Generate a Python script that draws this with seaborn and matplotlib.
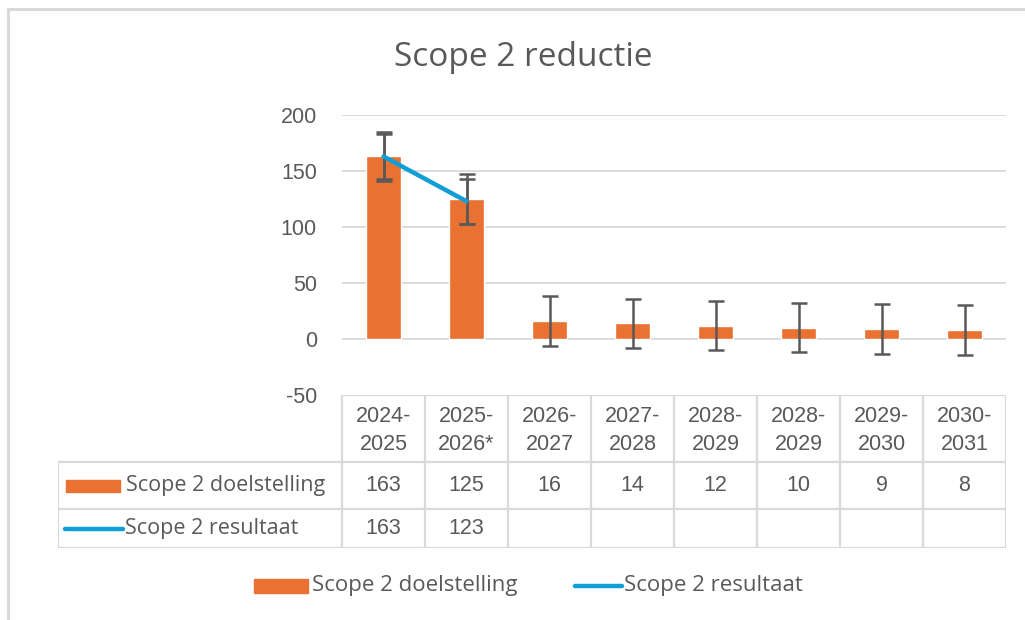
import numpy as np
import matplotlib
matplotlib.use("Agg")
import matplotlib.pyplot as plt
import seaborn as sns
from matplotlib.lines import Line2D
from matplotlib.patches import Rectangle

# ── Data ──────────────────────────────────────────────────────────────────────
periods = ["2024-\n2025", "2025-\n2026*", "2026-\n2027", "2027-\n2028",
           "2028-\n2029", "2028-\n2029", "2029-\n2030", "2030-\n2031"]
doelstelling = [163, 125, 16, 14, 12, 10, 9, 8]
resultaat = [163, 123]
title = "Scope 2 reductie"
label_doel = "Scope 2 doelstelling"
label_res = "Scope 2 resultaat"
yticks = [-50, 0, 50, 100, 150, 200]

ORANGE = "#E97132"
BLUE = "#0F9ED5"
TXT = "#595959"
GRID = "#D9D9D9"
FS = 15.5
SANS2 = ["Open Sans", "DejaVu Sans"]

# Excel "standard error" error bars
def std_err(v):
    v = np.asarray(v, dtype=float)
    return v.std(ddof=1) / np.sqrt(len(v))

sns.set_style("white")
plt.rcParams["font.family"] = ["Liberation Sans", "DejaVu Sans"]

W, H = 1025, 620
fig = plt.figure(figsize=(W / 100, H / 100), dpi=100)

def fx(px):
    return px / W

def fy(py):
    return 1 - py / H

# ── Plot area ────────────────────────────────────────────────────────────────
x0, x1, ytop, ybot = 342, 1006, 115, 395
ax = fig.add_axes([fx(x0), fy(ybot), fx(x1) - fx(x0), fy(ytop) - fy(ybot)])
n = len(doelstelling)
xs = np.arange(n)

sns.barplot(x=xs, y=doelstelling, color=ORANGE, width=0.42, saturation=1,
            ax=ax, zorder=2)
ax.errorbar(xs, doelstelling, yerr=std_err(doelstelling), fmt="none",
            ecolor=TXT, elinewidth=1.8, capsize=6, capthick=1.8, zorder=3)
xr = np.arange(len(resultaat))
ax.plot(xr, resultaat, color=BLUE, lw=3.2, solid_capstyle="round", zorder=4)
ax.errorbar(xr, resultaat, yerr=std_err(resultaat), fmt="none",
            ecolor=TXT, elinewidth=1.8, capsize=6, capthick=1.8, zorder=3)

ax.set_xlim(-0.5, n - 0.5)
ax.set_ylim(yticks[0], yticks[-1])
ax.set_yticks(yticks)
ax.set_yticklabels([str(t) for t in yticks], fontsize=FS, color=TXT)
ax.tick_params(axis="y", length=0, pad=18)
ax.set_xticks([])
ax.set_xlabel("")
for t in yticks[1:]:
    ax.axhline(t, color=GRID, lw=1.3, zorder=1)
for s in ax.spines.values():
    s.set_visible(False)

# ── Data table ───────────────────────────────────────────────────────────────
tl, tr = 58, 1006
rows_y = [395, 462, 509, 548]
cw = (x1 - x0) / n
tab = fig.add_axes([fx(tl), fy(rows_y[-1]), fx(tr) - fx(tl), fy(rows_y[0]) - fy(rows_y[-1])])
tab.set_xlim(tl, tr)
tab.set_ylim(rows_y[-1], rows_y[0])
tab.axis("off")
lk = dict(color=GRID, lw=1.6, solid_capstyle="projecting")
tab.plot([x0, tr], [rows_y[0]] * 2, **lk)
for yy in rows_y[1:]:
    tab.plot([tl, tr], [yy] * 2, **lk)
tab.plot([tl, tl], [rows_y[1], rows_y[3]], **lk)
for i in range(n + 1):
    xx = x0 + i * cw
    tab.plot([xx, xx], [rows_y[0], rows_y[3]], **lk)

for i in range(n):
    cx = x0 + (i + 0.5) * cw
    tab.text(cx, (rows_y[0] + rows_y[1]) / 2 + 2, periods[i], ha="center",
             va="center", fontsize=FS, color=TXT, linespacing=1.4)
    tab.text(cx, (rows_y[1] + rows_y[2]) / 2, str(doelstelling[i]), ha="center",
             va="center", fontsize=FS, color=TXT)
    if i < len(resultaat):
        tab.text(cx, (rows_y[2] + rows_y[3]) / 2, str(resultaat[i]), ha="center",
                 va="center", fontsize=FS, color=TXT)

# legend keys inside table
ym1 = (rows_y[1] + rows_y[2]) / 2
ym2 = (rows_y[2] + rows_y[3]) / 2
tab.add_patch(Rectangle((66, ym1 - 6), 54, 12, color=ORANGE))
tab.plot([65, 123], [ym2, ym2], color=BLUE, lw=3.2, solid_capstyle="round")
tab.text(126, ym1, label_doel, ha="left", va="center", fontsize=FS, color=TXT,
         family=SANS2)
tab.text(125, ym2, label_res, ha="left", va="center", fontsize=FS, color=TXT,
         family=SANS2)

# ── Title ────────────────────────────────────────────────────────────────────
fig.text(fx(523), fy(57), title, ha="center", va="center", fontsize=24,
         color=TXT, family=SANS2)

# ── Bottom legend ────────────────────────────────────────────────────────────
ly = 586
fig.add_artist(Rectangle((fx(254), fy(ly + 7)), fx(308) - fx(254), fy(ly - 7) - fy(ly + 7),
                         color=ORANGE, transform=fig.transFigure))
fig.text(fx(312), fy(ly), label_doel, ha="left", va="center", fontsize=16,
         color=TXT, family=SANS2)
fig.add_artist(Line2D([fx(575), fx(622)], [fy(ly), fy(ly)], color=BLUE, lw=3.2,
                      solid_capstyle="round"))
fig.text(fx(624), fy(ly), label_res, ha="left", va="center", fontsize=16,
         color=TXT, family=SANS2)

# ── Chart border ─────────────────────────────────────────────────────────────
fig.add_artist(Line2D([fx(8), 1], [fy(9), fy(9)], color=GRID, lw=2.2))
fig.add_artist(Line2D([fx(8), fx(8)], [fy(9), 0], color=GRID, lw=2.2))

fig.savefig("out.png", dpi=100, facecolor="white")
